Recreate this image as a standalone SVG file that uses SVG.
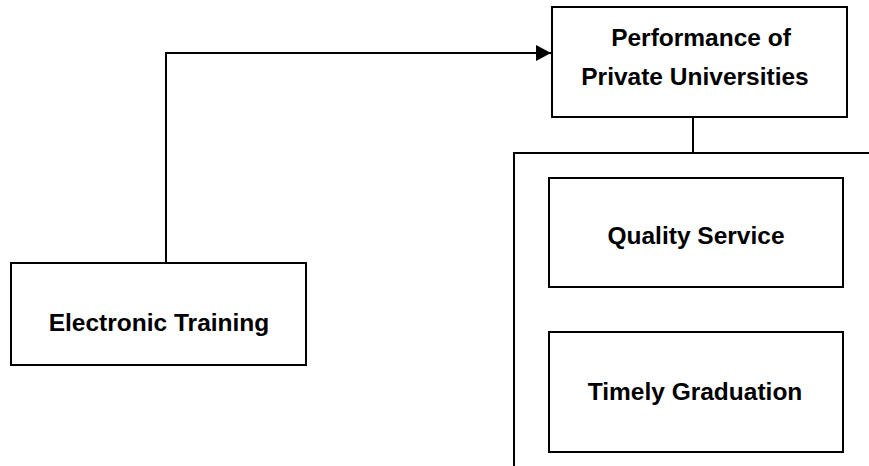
<svg xmlns="http://www.w3.org/2000/svg" width="869" height="466" viewBox="0 0 869 466">
  <style>
    .box { fill: #ffffff; stroke: #000000; stroke-width: 2; }
    .wire { fill: none; stroke: #000000; stroke-width: 2; }
    .label { font-family: "Liberation Sans", Arial, sans-serif; font-weight: bold; font-size: 24.5px; fill: #000000; text-anchor: middle; }
  </style>
  <defs>
    <marker id="arrowhead" markerWidth="15" markerHeight="16" refX="15" refY="8" orient="auto" markerUnits="userSpaceOnUse">
      <path d="M0,0 L15,8 L0,16 Z" fill="#000000"/>
    </marker>
  </defs>
  <rect width="869" height="466" fill="#ffffff"/>

  <g id="connectors">
    <!-- Electronic Training up and across to Performance -->
    <path class="wire" d="M166,262 V52"/>
    <path class="wire" d="M167,53 H551" marker-end="url(#arrowhead)"/>
    <!-- Performance down to the bracket of its indicators -->
    <path class="wire" d="M693,117 V153"/>
    <path class="wire" d="M514,153 H869"/>
    <path class="wire" d="M514,152 V466"/>
  </g>

  <g id="performance">
    <rect class="box" x="552" y="7" width="295" height="110"/>
    <text class="label" x="701" y="46">Performance of</text>
    <text class="label" x="695" y="85">Private Universities</text>
  </g>

  <g id="quality-service">
    <rect class="box" x="549" y="178" width="294" height="109"/>
    <text class="label" x="696" y="244">Quality Service</text>
  </g>

  <g id="timely-graduation">
    <rect class="box" x="549" y="332" width="294" height="120"/>
    <text class="label" x="695" y="400">Timely Graduation</text>
  </g>

  <g id="electronic-training">
    <rect class="box" x="11" y="263" width="295" height="102"/>
    <text class="label" x="159" y="331">Electronic Training</text>
  </g>
</svg>
